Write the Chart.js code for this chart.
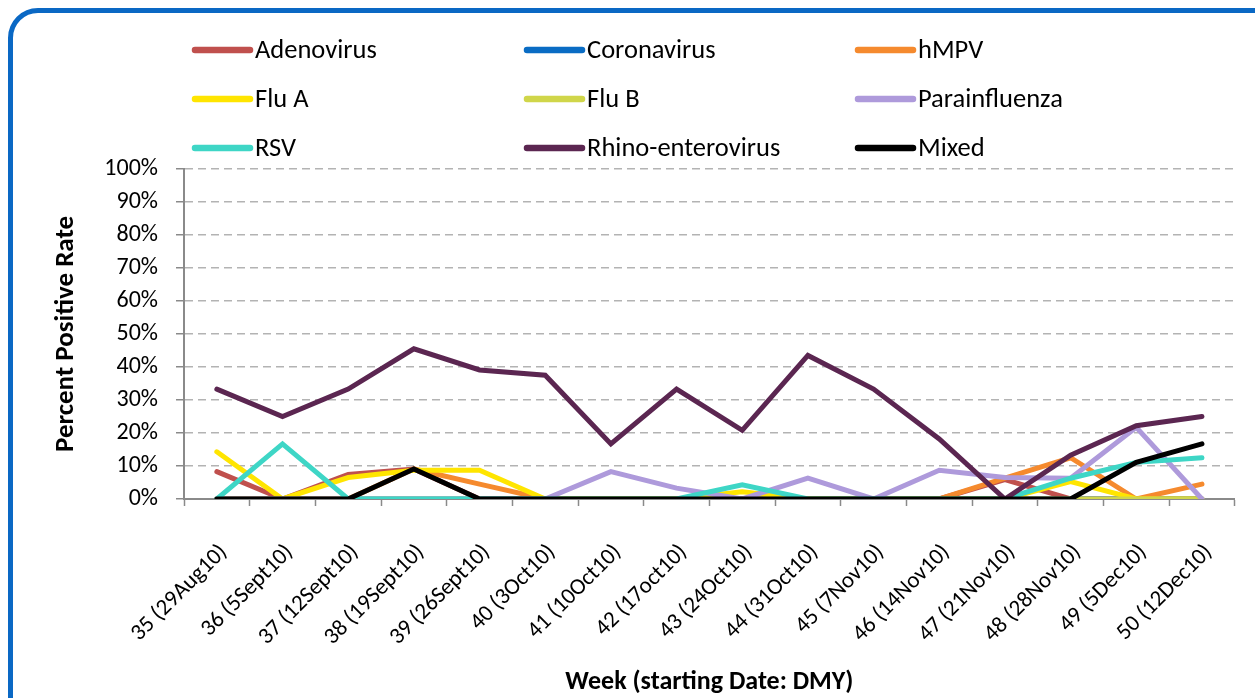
<!DOCTYPE html>
<html>
<head>
<meta charset="utf-8">
<script src="https://cdn.jsdelivr.net/npm/chart.js@4.4.1/dist/chart.umd.min.js"></script>
<style>
  html, body { margin: 0; padding: 0; background: #fff; overflow: hidden; }
  #wrap { position: relative; width: 1255px; height: 698px; overflow: hidden; }
  #frame { position: absolute; left: 8px; top: 8px; width: 1280px; height: 720px;
           border: 5px solid #0A68C4; border-radius: 30px; box-sizing: border-box; }
  canvas { position: absolute; left: 0; top: 0; }
</style>
</head>
<body>
<div id="wrap">
  <div id="frame"></div>
  <canvas id="c" width="1255" height="698"></canvas>
</div>
<script>
// ---- Data (percent positive rate, %) ----
const weeks = ['35 (29Aug10)','36 (5Sept10)','37 (12Sept10)','38 (19Sept10)','39 (26Sept10)','40 (3Oct10)',
               '41 (10Oct10)','42 (17oct10)','43 (24Oct10)','44 (31Oct10)','45 (7Nov10)','46 (14Nov10)',
               '47 (21Nov10)','48 (28Nov10)','49 (5Dec10)','50 (12Dec10)'];
const seriesNames = ['Adenovirus','Coronavirus','hMPV','Flu A','Flu B','Parainfluenza','RSV','Rhino-enterovirus','Mixed'];
const adenovirus    = [8.3, 0, 7.4, 9.1, 0, 0, 0, 0, 0, 0, 0, 0, 5.9, 0, 0, 0];
const coronavirus   = [0, 0, 0, 0, 0, 0, 0, 0, 0, 0, 0, 0, 0, 0, 0, 0];
const hmpv          = [0, 0, 0, 9.1, 4.5, 0, 0, 0, 0, 0, 0, 0, 6.3, 12.5, 0, 4.5];
const fluA          = [14.3, 0, 6.5, 8.7, 8.7, 0, 0, 0, 2.2, 0, 0, 0, 0, 5.3, 0, 0];
const fluB          = [0, 0, 0, 0, 0, 0, 0, 0, 0, 0, 0, 0, 0, 0, 0, 0];
const parainfluenza = [0, 0, 0, 0, 0, 0, 8.3, 3.3, 0, 6.3, 0, 8.7, 6.5, 6.3, 21.7, 0];
const rsv           = [0, 16.7, 0, 0, 0, 0, 0, 0, 4.3, 0, 0, 0, 0, 6.3, 11.1, 12.5];
const rhino         = [33.3, 25, 33.3, 45.5, 39.1, 37.5, 16.7, 33.3, 20.8, 43.5, 33.3, 18.2, 0, 13.3, 22.2, 25];
const mixed         = [0, 0, 0, 9.1, 0, 0, 0, 0, 0, 0, 0, 0, 0, 0, 11.1, 16.7];
const yTicks = [0, 10, 20, 30, 40, 50, 60, 70, 80, 90, 100];

const seriesValues = [adenovirus, coronavirus, hmpv, fluA, fluB, parainfluenza, rsv, rhino, mixed];
const seriesColors = ['#C0504D','#0A6CC4','#F58A2E','#FFE500','#D0D64A','#AE9ADB','#3ED6C6','#5B2651','#000000'];

const FONT = "Carlito, Lato, 'Open Sans', sans-serif";

const datasets = seriesNames.map((name, i) => ({
  label: name,
  data: seriesValues[i],
  borderColor: seriesColors[i],
  backgroundColor: seriesColors[i],
  borderWidth: 5,
  pointRadius: 0,
  pointHoverRadius: 0,
  tension: 0,
  fill: false,
  order: seriesNames.length - i,
  borderCapStyle: 'round',
  borderJoinStyle: 'miter'
}));

const legendCols = [195, 527, 858];
const legendRows = [50, 99, 148];
const gridLegend = {
  id: 'gridLegend',
  afterDraw(chart) {
    const ctx = chart.ctx;
    chart.data.datasets.forEach((ds, i) => {
      const x = legendCols[i % 3], y = legendRows[Math.floor(i / 3)];
      ctx.save();
      ctx.strokeStyle = ds.borderColor;
      ctx.lineWidth = 6.5;
      ctx.lineCap = 'round';
      ctx.beginPath();
      ctx.moveTo(x, y);
      ctx.lineTo(x + 55, y);
      ctx.stroke();
      ctx.fillStyle = '#000';
      ctx.font = '26.5px ' + FONT;
      ctx.textBaseline = 'middle';
      ctx.textAlign = 'left';
      ctx.fillText(ds.label, x + 60, y + 1);
      ctx.restore();
    });
  }
};

new Chart(document.getElementById('c'), {
  type: 'line',
  data: { labels: weeks, datasets },
  plugins: [gridLegend],
  options: {
    responsive: false,
    animation: false,
    events: [],
    layout: { padding: { left: 50, right: 17, top: 169, bottom: 0 } },
    plugins: { legend: { display: false }, tooltip: { enabled: false } },
    scales: {
      x: {
        type: 'category',
        offset: true,
        afterFit(s) { s.height = 199; },
        grid: { display: true, drawOnChartArea: false, drawTicks: true, tickLength: 7,
                tickColor: '#8A8A8A', tickWidth: 1.5, offset: true },
        border: { display: true, color: '#8A8A8A', width: 2 },
        ticks: { color: '#000', font: { family: FONT, size: 23 }, minRotation: 45, maxRotation: 45,
                 autoSkip: false, padding: 33, labelOffset: 7 },
        title: { display: true, text: 'Week (starting Date: DMY)', color: '#000',
                 font: { family: FONT, size: 26, weight: 'bold' }, padding: { top: 0, bottom: 0 } }
      },
      y: {
        min: 0, max: 100,
        afterFit(s) { s.width = 134; },
        afterBuildTicks(s) { s.ticks = yTicks.map(v => ({ value: v })); },
        grid: {
          color: (c) => (c.tick && c.tick.value === 0) ? 'rgba(0,0,0,0)' : '#B3B3B3',
          lineWidth: 1.5, drawTicks: true, tickLength: 8, tickColor: '#8A8A8A', tickWidth: 1.5,
          tickBorderDash: []
        },
        border: { display: true, color: '#8A8A8A', width: 2, dash: [8, 5] },
        ticks: { color: '#000', font: { family: FONT, size: 24 }, padding: 18,
                 callback: (v) => v + '%' },
        title: { display: true, text: 'Percent Positive Rate', color: '#000',
                 font: { family: FONT, size: 27, weight: 'bold' }, padding: { top: 0, bottom: 4 } }
      }
    }
  }
});
</script>
</body>
</html>
